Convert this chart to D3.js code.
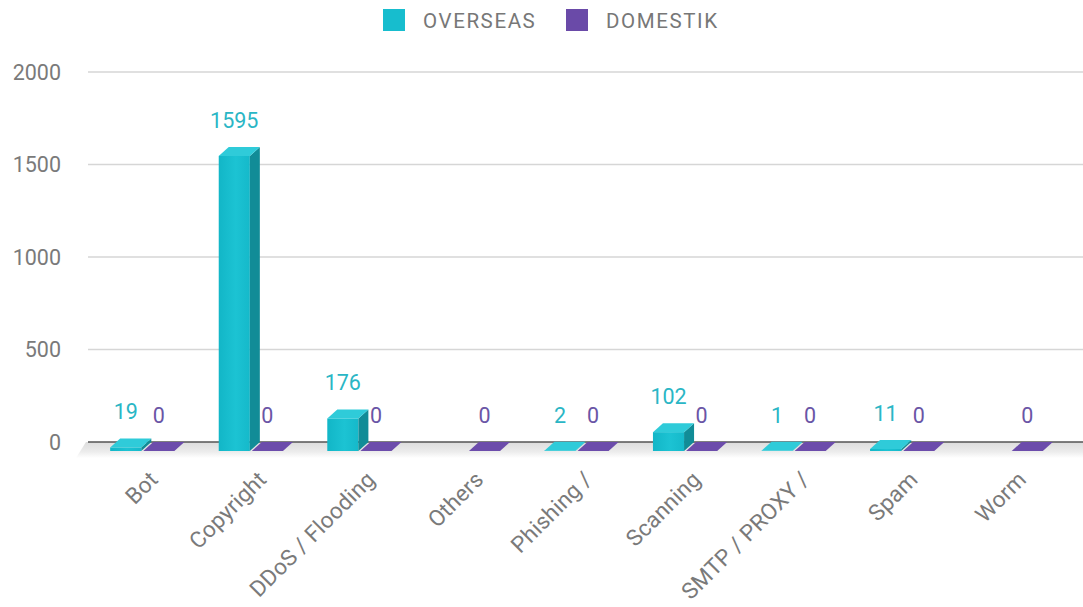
<!DOCTYPE html>
<html>
<head>
<meta charset="utf-8">
<script src="https://cdn.jsdelivr.net/npm/d3@7/dist/d3.min.js"></script>
<style>
  body { margin: 0; background: #fff; }
  svg { display: block; font-family: Roboto, "Noto Sans", sans-serif; }
</style>
</head>
<body>
<script>
var categories = ["Bot", "Copyright", "DDoS / Flooding", "Others", "Phishing /", "Scanning", "SMTP / PROXY /", "Spam", "Worm"];
var seriesNames = ["OVERSEAS", "DOMESTIK"];
var overseas = [19, 1595, 176, null, 2, 102, 1, 11, null];
var domestik = [0, 0, 0, 0, 0, 0, 0, 0, 0];
var yTicks = [0, 500, 1000, 1500, 2000];

var W = 1083, H = 607;
var dx = 10, dy = 9; // 3d depth offset

var colors = {
    OVERSEAS: { front: "#17bdce", side: "#118c97", top: "#2fcbd9", label: "#2ab6c5" },
    DOMESTIK: { front: "#6a4aa8", side: "#4f3585", top: "#6c4cab", label: "#6a55a6" }
};

var svg = d3.select("body").append("svg")
    .attr("width", W)
    .attr("height", H);

var defs = svg.append("defs");
var floorGrad = defs.append("linearGradient")
    .attr("id", "floorGrad")
    .attr("x1", 0).attr("y1", 0).attr("x2", 0).attr("y2", 1);
floorGrad.append("stop").attr("offset", "0%").attr("stop-color", "#dcdcdc");
floorGrad.append("stop").attr("offset", "60%").attr("stop-color", "#ececec");
floorGrad.append("stop").attr("offset", "100%").attr("stop-color", "#ffffff");

var faceGrad = defs.append("linearGradient")
    .attr("id", "faceGrad")
    .attr("x1", 0).attr("y1", 0).attr("x2", 1).attr("y2", 0);
faceGrad.append("stop").attr("offset", "0%").attr("stop-color", "#12b6c7");
faceGrad.append("stop").attr("offset", "55%").attr("stop-color", "#1cc3d3");
faceGrad.append("stop").attr("offset", "100%").attr("stop-color", "#15b9ca");

// scales
var x = d3.scaleBand()
    .domain(categories)
    .range([88, 1065]);

var x1 = d3.scaleBand()
    .domain(seriesNames)
    .range([0, x.bandwidth()])
    .paddingInner(0.06)
    .paddingOuter(0.67);

var y = d3.scaleLinear()
    .domain([0, 2000])
    .range([442, 72]);

// grid lines
svg.append("g")
    .selectAll("line")
    .data(yTicks.filter(function(d) { return d > 0; }))
    .enter().append("line")
    .attr("x1", 88)
    .attr("x2", W)
    .attr("y1", function(d) { return y(d); })
    .attr("y2", function(d) { return y(d); })
    .attr("stroke", "#d6d6d6")
    .attr("stroke-width", 1.5);

// y axis labels
svg.append("g")
    .selectAll("text")
    .data(yTicks)
    .enter().append("text")
    .attr("x", 61)
    .attr("y", function(d) { return y(d) + 7.5; })
    .attr("text-anchor", "end")
    .attr("font-size", 21.5)
    .attr("fill", "#7a7a7a")
    .text(function(d) { return d; });

// floor
var y0 = y(0);
svg.append("polygon")
    .attr("points", [[86, y0], [W, y0], [W, y0 + 16], [76, y0 + 16]].join(" "))
    .attr("fill", "url(#floorGrad)");

// zero line
svg.append("line")
    .attr("x1", 88)
    .attr("x2", W)
    .attr("y1", y0)
    .attr("y2", y0)
    .attr("stroke", "#555")
    .attr("stroke-width", 1.5);

// build bar data
var bars = [];
categories.forEach(function(c, i) {
    [["OVERSEAS", overseas[i]], ["DOMESTIK", domestik[i]]].forEach(function(p) {
        if (p[1] === null) return;
        bars.push({ cat: c, key: p[0], value: p[1] });
    });
});

var barG = svg.append("g")
    .selectAll("g")
    .data(bars)
    .enter().append("g");

function x0(d) { return x(d.cat) + x1(d.key); }

barG.append("rect")
    .attr("x", x0)
    .attr("y", function(d) { return y(d.value) + dy; })
    .attr("width", x1.bandwidth())
    .attr("height", function(d) { return y(0) - y(d.value); })
    .attr("fill", function(d) { return d.key === "OVERSEAS" ? "url(#faceGrad)" : colors[d.key].front; });

barG.append("polygon")
    .attr("points", function(d) {
        var a = x0(d) + x1.bandwidth(), t = y(d.value), b = y(0);
        return [[a, t + dy], [a + dx, t], [a + dx, b], [a, b + dy]].join(" ");
    })
    .attr("fill", function(d) { return colors[d.key].side; });

barG.append("polygon")
    .attr("points", function(d) {
        var a = x0(d), w = x1.bandwidth(), t = y(d.value);
        return [[a, t + dy], [a + dx, t], [a + w + dx, t], [a + w, t + dy]].join(" ");
    })
    .attr("fill", function(d) { return colors[d.key].top; });

// value labels
barG.append("text")
    .attr("x", function(d) { return x0(d) + x1.bandwidth() / 2; })
    .attr("y", function(d) { return y(d.value) - 19; })
    .attr("text-anchor", "middle")
    .attr("font-size", 21.5)
    .attr("fill", function(d) { return colors[d.key].label; })
    .text(function(d) { return d.value; });

// category labels
svg.append("g")
    .selectAll("text")
    .data(categories)
    .enter().append("text")
    .attr("text-anchor", "end")
    .attr("font-size", 22.5)
    .attr("letter-spacing", 0.2)
    .attr("fill", "#7a7a7a")
    .attr("transform", function(d) {
        var cx = x(d) + x.bandwidth() / 2 + 17;
        return "translate(" + cx + ",481) rotate(-45)";
    })
    .text(function(d) { return d; });

// legend
var legend = svg.append("g")
    .selectAll("g")
    .data(seriesNames)
    .enter().append("g")
    .attr("transform", function(d, i) { return "translate(" + (383 + i * 183) + ",9)"; });

legend.append("rect")
    .attr("width", 22)
    .attr("height", 22)
    .attr("fill", function(d) { return d === "OVERSEAS" ? "#17bdce" : "#6a4aa8"; });

legend.append("text")
    .attr("x", 40)
    .attr("y", 18.5)
    .attr("font-size", 20.5)
    .attr("letter-spacing", 1.6)
    .attr("fill", "#777")
    .text(function(d) { return d; });
</script>
</body>
</html>
